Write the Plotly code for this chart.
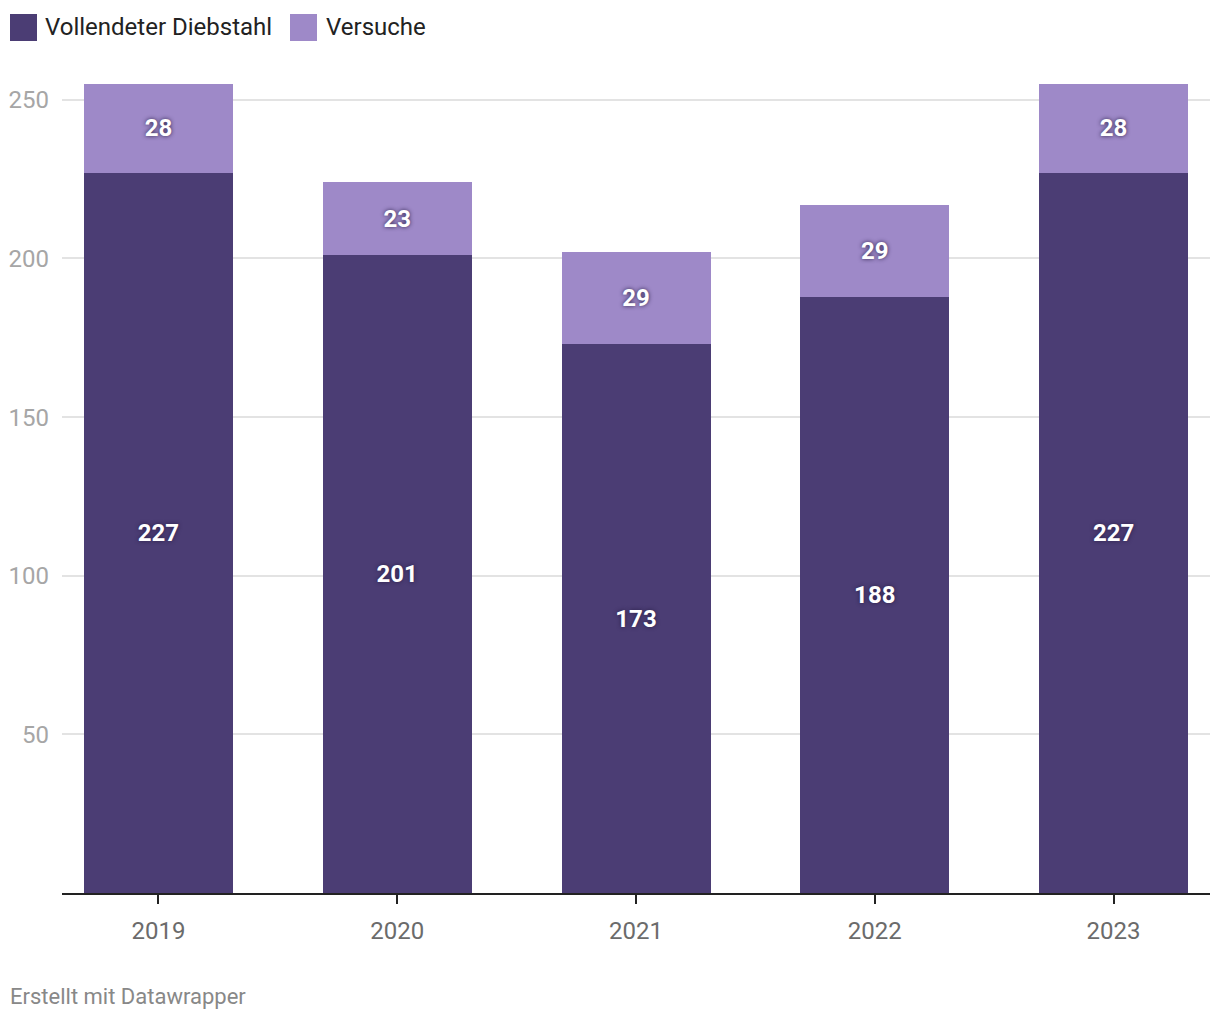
import plotly.graph_objects as go

years = ["2019", "2020", "2021", "2022", "2023"]
vollendet = [227, 201, 173, 188, 227]
versuche = [28, 23, 29, 29, 28]
series_names = ["Vollendeter Diebstahl", "Versuche"]
y_ticks = [50, 100, 150, 200, 250]

DARK = "#4b3d74"
LIGHT = "#9e89c8"
FONT = "Roboto"

OFF = 8  # page body margin offset
W, H = 1212, 1012
ML, MR, MT, MB = 62 - OFF, 10, 84 - OFF, 127
PW = W - ML - MR
PH = H - MT - MB

label_font = dict(family=FONT, size=24, color="white", weight="bold",
                  shadow="0px 0px 4px rgba(40,30,70,0.95)")

fig = go.Figure()
fig.add_trace(go.Bar(x=years, y=vollendet, name=series_names[0], marker_color=DARK,
                     marker_line_width=0, text=vollendet, textposition="inside",
                     insidetextanchor="middle", textangle=0, textfont=label_font,
                     constraintext="none", width=0.624))
fig.add_trace(go.Bar(x=years, y=versuche, name=series_names[1], marker_color=LIGHT,
                     marker_line_width=0, text=versuche, textposition="inside",
                     insidetextanchor="middle", textangle=0, textfont=label_font,
                     constraintext="none", width=0.624))


def px_x(px):
    return (px - OFF - ML) / PW


def px_y(py):
    return (H - MB - (py - OFF)) / PH


shapes = []
annotations = []
legend_items = [(10, DARK, series_names[0], 43), (290, LIGHT, series_names[1], 324)]
for x0, col, name, tx in legend_items:
    shapes.append(dict(type="rect", xref="paper", yref="paper",
                       x0=px_x(x0), x1=px_x(x0 + 27), y0=px_y(41), y1=px_y(14),
                       fillcolor=col, line_width=0))
    annotations.append(dict(xref="paper", yref="paper", x=px_x(tx), y=px_y(27),
                            xanchor="left", yanchor="middle", text=name, showarrow=False,
                            font=dict(family=FONT, size=24, color="#222222")))

annotations.append(dict(xref="paper", yref="paper", x=px_x(8), y=px_y(996),
                        xanchor="left", yanchor="middle", text="Erstellt mit Datawrapper",
                        showarrow=False, font=dict(family=FONT, size=22, color="#888888")))

fig.update_layout(
    barmode="stack",
    width=W, height=H,
    margin=dict(l=ML, r=MR, t=MT, b=MB, autoexpand=False),
    plot_bgcolor="white", paper_bgcolor="white",
    showlegend=False,
    shapes=shapes,
    annotations=annotations,
    font=dict(family=FONT),
)
fig.update_xaxes(range=[-0.404, 4.404], showline=True, linecolor="#222222", linewidth=2,
                 ticks="outside", ticklen=9, tickwidth=2, tickcolor="#222222",
                 tickfont=dict(family=FONT, size=24, color="#6b6b6b"),
                 showgrid=False, zeroline=False, ticklabelstandoff=6, automargin=False)
fig.update_yaxes(range=[0, 255], tickvals=y_ticks, showgrid=True, gridcolor="#e3e3e3",
                 gridwidth=1.5, zeroline=False, showline=False,
                 tickfont=dict(family=FONT, size=24, color="#a6a6a6"),
                 ticks="", ticklabelstandoff=12, automargin=False)

fig.write_html("out.html")
